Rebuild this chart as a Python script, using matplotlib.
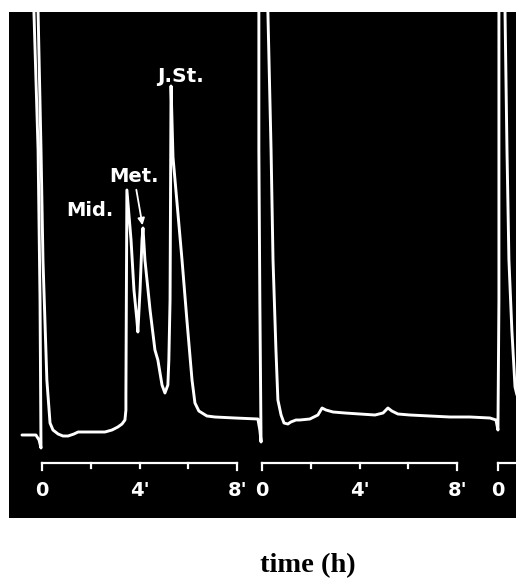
import numpy as np
import matplotlib
matplotlib.use("Agg")
import matplotlib.pyplot as plt

# recorder trace: time (min, continuous over the three runs) and detector signal (arb. units)
trace_t = [-0.82, -0.25, -0.12, -0.04, -0.08, -0.16, -0.33, -0.29,
           -0.16, -0.04, 0.04, 0.20, 0.33, 0.45, 0.66, 0.86, 1.07, 1.31, 1.48,
           1.97, 2.58, 2.87, 3.11, 3.28, 3.40, 3.44, 3.44, 3.48,
           3.65, 3.77, 3.89, 3.93, 4.02, 4.10, 4.14,
           4.22, 4.43, 4.63, 4.75, 4.92, 5.04, 5.16, 5.20, 5.25, 5.29,
           5.37, 5.74, 5.94, 6.15, 6.27, 6.43, 6.76, 7.09, 7.91, 8.85, 8.93, 8.98,
           8.93, 8.89, 8.89, 9.10, 9.26, 9.39, 9.47, 9.59, 9.67, 9.80, 9.92,
           10.08, 10.20, 10.41, 10.57, 10.98, 11.31, 11.48, 11.64, 11.93, 12.42,
           13.03, 13.65, 13.98, 14.18, 14.34, 14.59, 15.08, 15.90, 16.72, 17.54,
           18.36, 18.61, 18.69, 18.73, 18.73, 18.73, 18.81, 18.98, 19.06, 19.14,
           19.26, 19.39, 19.47]
trace_s = [83, 83, 78, 70, 218, 368, 506, 558,
           506, 368, 258, 138, 95, 88, 84, 82, 82, 84, 86,
           86, 86, 88, 91, 94, 98, 108, 123, 328,
           278, 228, 198, 186, 228, 278, 290,
           258, 208, 168, 158, 133, 125, 133, 158, 218, 432,
           361, 258, 198, 138, 115, 107, 102, 101, 100, 99, 88, 76,
           218, 368, 506, 558, 506, 368, 258, 168, 118, 103, 95,
           94, 96, 98, 98, 99, 103, 110, 108, 106, 105,
           104, 103, 105, 110, 107, 104, 103, 102, 101, 101,
           100, 98, 88, 218, 368, 506, 558, 506, 368, 258,
           188, 131, 123]

# injection starts (min) and scale marks per run
run_starts = [0.0, 9.02, 18.69]
scale_ticks = [0, 2, 4, 6, 8]
scale_labels = {0: "0", 4: "4'", 8: "8'"}

# peaks labelled in the first run: (label, time, signal)
peaks = [("Mid.", 3.48, 328), ("Met.", 4.14, 290), ("J.St.", 5.29, 432)]

fig = plt.figure(figsize=(5.16, 5.80), dpi=100)
ax = fig.add_axes([9 / 516, 62 / 580, 507 / 516, 506 / 580])
ax.set_facecolor("black")
xmin, xmax = -1.352, 19.43
ax.set_xlim(xmin, xmax)
ax.set_ylim(0, 506)
for sp in ax.spines.values():
    sp.set_visible(False)
ax.set_xticks([])
ax.set_yticks([])

ax.plot(trace_t, trace_s, color="white", lw=2.1, solid_joinstyle="round",
        solid_capstyle="round")

# scale bars under each run
bar_y, end_y, mid_y, lab_y = 55, 48, 50, 28
for t0 in run_starts:
    xs = [t0 + v for v in scale_ticks]
    ax.plot([xs[0], xs[-1]], [bar_y, bar_y], color="white", lw=1.6)
    for v, x in zip(scale_ticks, xs):
        low = end_y if v in (scale_ticks[0], scale_ticks[-1]) else mid_y
        ax.plot([x, x], [bar_y, low], color="white", lw=1.6)
        if v in scale_labels and x < xmax - 0.3:
            ax.text(x, lab_y, scale_labels[v], color="white", fontsize=14,
                    fontweight="bold", ha="center", va="center")

# peak labels
name, t, s = peaks[0]
ax.annotate(name, (t, s), xytext=(-26.6, -14.4), textcoords="offset points",
            color="white", fontsize=14, fontweight="bold", ha="center", va="center")
name, t, s = peaks[1]
ax.annotate(name, (t, s), xytext=(-6.5, 37.4), textcoords="offset points",
            color="white", fontsize=14, fontweight="bold", ha="center", va="center",
            arrowprops=dict(arrowstyle="-|>", color="white", lw=1.3,
                            mutation_scale=10, shrinkA=1, shrinkB=2))
name, t, s = peaks[2]
ax.annotate(name, (t, s), xytext=(6.5, 6.5), textcoords="offset points",
            color="white", fontsize=14.5, fontweight="bold", ha="center", va="center")

fig.text(308 / 516, 1 - 566 / 580, "time (h)", family="Liberation Serif",
         fontweight="bold", fontsize=20.5, ha="center", va="center")

fig.savefig("out.png", dpi=100, facecolor="white")
